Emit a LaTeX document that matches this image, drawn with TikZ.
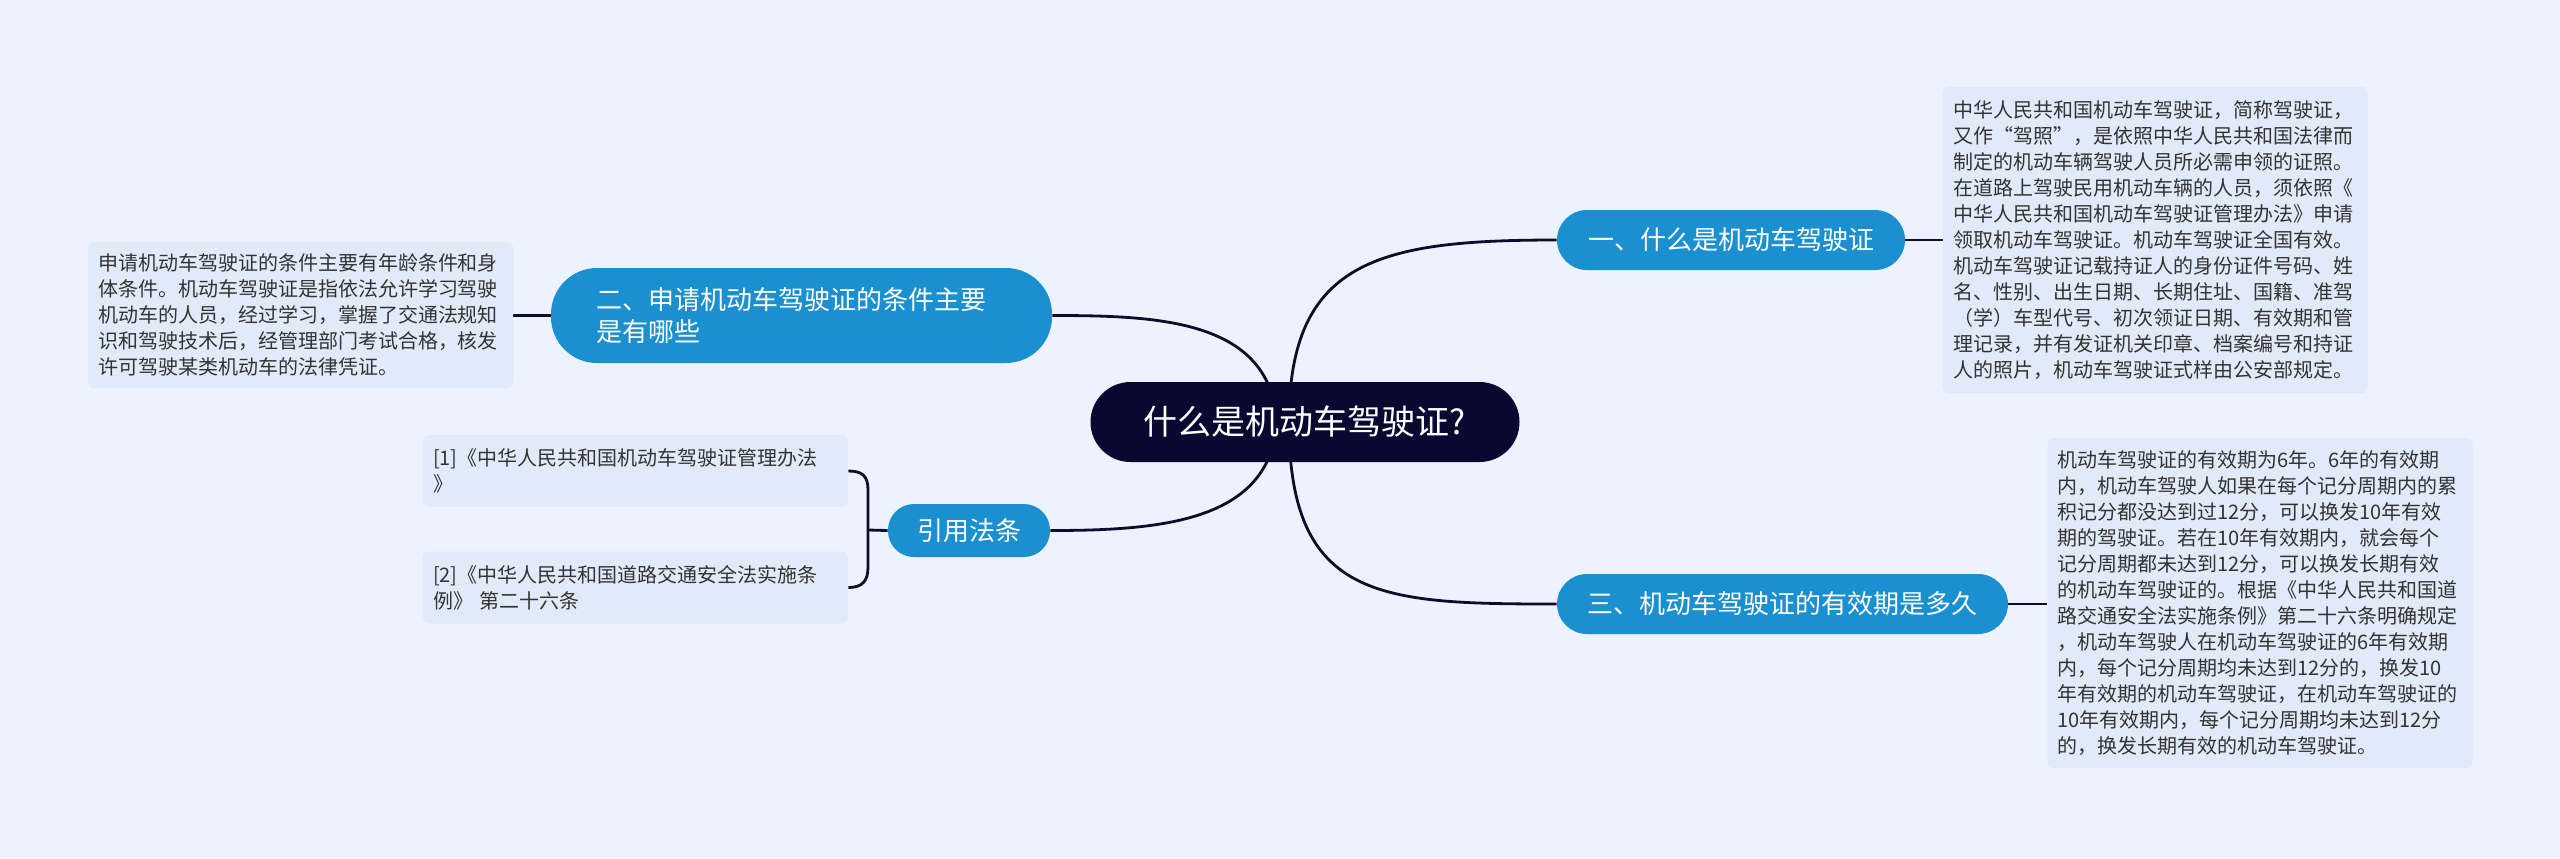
\documentclass[tikz,border=0pt]{standalone}
\usepackage{fontspec}
\newfontfamily\cjk{Noto Sans CJK SC}
\usetikzlibrary{calc,backgrounds}
\definecolor{pagebg}{HTML}{EDF3FE}
\definecolor{notefill}{HTML}{E1EAF9}
\definecolor{branchblue}{HTML}{1A90D0}
\definecolor{rootnavy}{HTML}{0A0830}
\definecolor{linkink}{HTML}{0E0B2B}

\begin{document}
\begin{tikzpicture}[x=0.5pt,y=-0.5pt,
root/.style={fill=rootnavy,text=white,rounded corners=20pt,minimum width=214.5pt,minimum height=40pt,inner sep=0pt,font=\cjk\fontsize{17}{20}\selectfont},
branch/.style={fill=branchblue,text=white,rounded corners=15pt,minimum height=30pt,inner sep=0pt,font=\cjk\fontsize{13}{16}\selectfont},
note/.style={fill=notefill,rounded corners=3pt,text width=202.5pt,inner xsep=5pt,inner ysep=0pt,align=left,font=\cjk\fontsize{10}{13}\selectfont,text=black!80},
link/.style={draw=linkink,line width=1.4pt}]
% centre and main branches
\node[root] (root) at (1305,422) {什么是机动车驾驶证?};
\node[branch,minimum width=174pt] (b1) at (1731,240) {一、什么是机动车驾驶证};
\node[branch,minimum width=225.5pt] (b3) at (1782.5,604) {三、机动车驾驶证的有效期是多久};
\node[branch,rounded corners=23pt,minimum height=47.5pt,text width=205pt,inner xsep=22.75pt,align=left] (b2) at (801.5,315.5) {二、申请机动车驾驶证的条件主要\\是有哪些};
\node[branch,rounded corners=13pt,minimum width=81pt,minimum height=26.5pt] (refs) at (969,530.5) {引用法条};
% leaf notes
\node[note,minimum height=153pt] (tb1) at (2155.5,240) {中华人民共和国机动车驾驶证，简称驾驶证，\\又作“驾照”，是依照中华人民共和国法律而\\制定的机动车辆驾驶人员所必需申领的证照。\\在道路上驾驶民用机动车辆的人员，须依照《\\中华人民共和国机动车驾驶证管理办法》申请\\领取机动车驾驶证。机动车驾驶证全国有效。\\机动车驾驶证记载持证人的身份证件号码、姓\\名、性别、出生日期、长期住址、国籍、准驾\\（学）车型代号、初次领证日期、有效期和管\\理记录，并有发证机关印章、档案编号和持证\\人的照片，机动车驾驶证式样由公安部规定。};
\node[note,minimum height=165pt] (tb3) at (2260,603) {机动车驾驶证的有效期为6年。6年的有效期\\内，机动车驾驶人如果在每个记分周期内的累\\积记分都没达到过12分，可以换发10年有效\\期的驾驶证。若在10年有效期内，就会每个\\记分周期都未达到12分，可以换发长期有效\\的机动车驾驶证的。根据《中华人民共和国道\\路交通安全法实施条例》第二十六条明确规定\\，机动车驾驶人在机动车驾驶证的6年有效期\\内，每个记分周期均未达到12分的，换发10\\年有效期的机动车驾驶证，在机动车驾驶证的\\10年有效期内，每个记分周期均未达到12分\\的，换发长期有效的机动车驾驶证。};
\node[note,minimum height=73pt] (tb2) at (300.5,315) {申请机动车驾驶证的条件主要有年龄条件和身\\体条件。机动车驾驶证是指依法允许学习驾驶\\机动车的人员，经过学习，掌握了交通法规知\\识和驾驶技术后，经管理部门考试合格，核发\\许可驾驶某类机动车的法律凭证。};
\node[note,minimum height=36pt] (r1) at (635.5,471) {[1]《中华人民共和国机动车驾驶证管理办法\\》};
\node[note,minimum height=36pt] (r2) at (635.5,587.5) {[2]《中华人民共和国道路交通安全法实施条\\例》 第二十六条};
\coordinate (brkTop) at (868,490);
\coordinate (brkMid) at (868,530);
\coordinate (brkBot) at (868,567);
\begin{scope}[on background layer]
\fill[pagebg] (0,0) rectangle (2560,858);
\draw[link] ([xshift=-8pt]root.center) .. controls +(0,-162) and +(-177,0) .. (b1.west);
\draw[link] ([xshift=-8pt]root.center) .. controls +(0,178) and +(-177,0) .. (b3.west);
\draw[link] ([xshift=-14pt]root.center) .. controls +(-7,-102) and +(108,0) .. (b2.east);
\draw[link] ([xshift=-14pt]root.center) .. controls +(-7,100) and +(110,0) .. (refs.east);
\draw[link] (b1.east) -- (b1.east -| tb1.west);
\draw[link] (b3.east) -- (b3.east -| tb3.west);
\draw[link] (b2.west) -- (b2.west -| tb2.east);
\draw[link] (refs.west) -- (brkMid);
\draw[link] (r1.east) .. controls +(14,0) and +(0,-14) .. (brkTop) -- (brkBot) .. controls +(0,14) and +(14,0) .. (r2.east);
\end{scope}
\end{tikzpicture}
\end{document}
